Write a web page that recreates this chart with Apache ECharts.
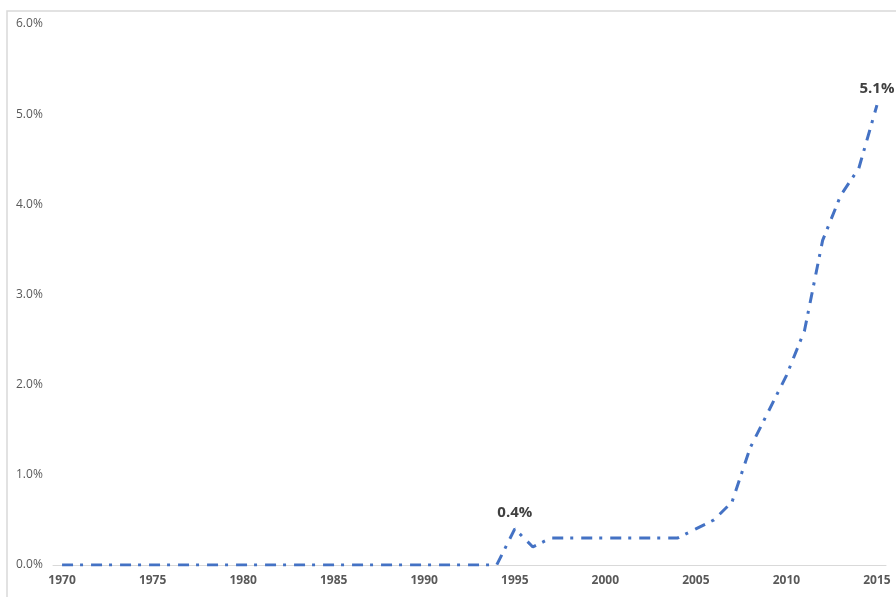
<!DOCTYPE html>
<html>
<head>
<meta charset="utf-8">
<script src="https://cdn.jsdelivr.net/npm/echarts@6/dist/echarts.min.js"></script>
<style>
  html, body { margin: 0; padding: 0; background: #fff; }
  #chart { width: 896px; height: 597px; }
</style>
</head>
<body>
<div id="chart"></div>
<script>
// Years on the horizontal axis
const years = [];
for (let y = 1970; y <= 2015; y++) years.push(String(y));

// Share (%) per year
const shareValues = [
  0, 0, 0, 0, 0, 0, 0, 0, 0, 0,          // 1970-1979
  0, 0, 0, 0, 0, 0, 0, 0, 0, 0,          // 1980-1989
  0, 0, 0, 0, 0, 0.4, 0.2, 0.3, 0.3, 0.3, // 1990-1999
  0.3, 0.3, 0.3, 0.3, 0.3, 0.4, 0.5, 0.7, 1.3, 1.7, // 2000-2009
  2.1, 2.6, 3.6, 4.1, 4.4, 5.1           // 2010-2015
];

// Years whose value is printed above the line
const labeledYears = ['1995', '2015'];

// Value-axis tick labels (percent)
const yTicks = [0, 1, 2, 3, 4, 5, 6];

const seriesData = shareValues.map((v, i) => {
  if (labeledYears.includes(years[i])) {
    return { value: v, label: { show: true } };
  }
  return v;
});

const chart = echarts.init(document.getElementById('chart'), null, { renderer: 'canvas' });

chart.setOption({
  animation: false,
  backgroundColor: '#ffffff',
  textStyle: { fontFamily: '"Open Sans", "Noto Sans", sans-serif' },
  graphic: [{
    type: 'rect',
    shape: { x: 7, y: 11, width: 900, height: 600 },
    style: { fill: 'none', stroke: '#d9d9d9', lineWidth: 1.5 },
    silent: true
  }],
  grid: { left: 53, right: 10, top: 24, bottom: 32, containLabel: false },
  xAxis: {
    type: 'category',
    data: years,
    boundaryGap: true,
    axisLine: { show: true, lineStyle: { color: '#d9d9d9', width: 1 } },
    axisTick: { show: false },
    axisLabel: {
      interval: 4,
      color: '#595959',
      fontSize: 12,
      fontWeight: 'bold',
      margin: 10
    },
    splitLine: { show: false }
  },
  yAxis: {
    type: 'value',
    min: yTicks[0],
    max: yTicks[yTicks.length - 1],
    interval: 1,
    axisLine: { show: false },
    axisTick: { show: false },
    splitLine: { show: false },
    axisLabel: {
      color: '#595959',
      fontSize: 12,
      align: 'left',
      margin: 37,
      formatter: v => v.toFixed(1) + '%'
    }
  },
  series: [{
    type: 'line',
    data: seriesData,
    symbol: 'circle',
    symbolSize: 1,
    showSymbol: true,
    itemStyle: { color: 'rgba(0,0,0,0)' },
    smooth: false,
    lineStyle: {
      color: '#4472C4',
      width: 3,
      type: [11, 7, 3, 8],
      cap: 'butt'
    },
    label: {
      show: false,
      position: 'top',
      distance: 8,
      color: '#404040',
      fontSize: 15,
      fontWeight: 'bold',
      formatter: p => p.value.toFixed(1) + '%'
    }
  }]
});
</script>
</body>
</html>
